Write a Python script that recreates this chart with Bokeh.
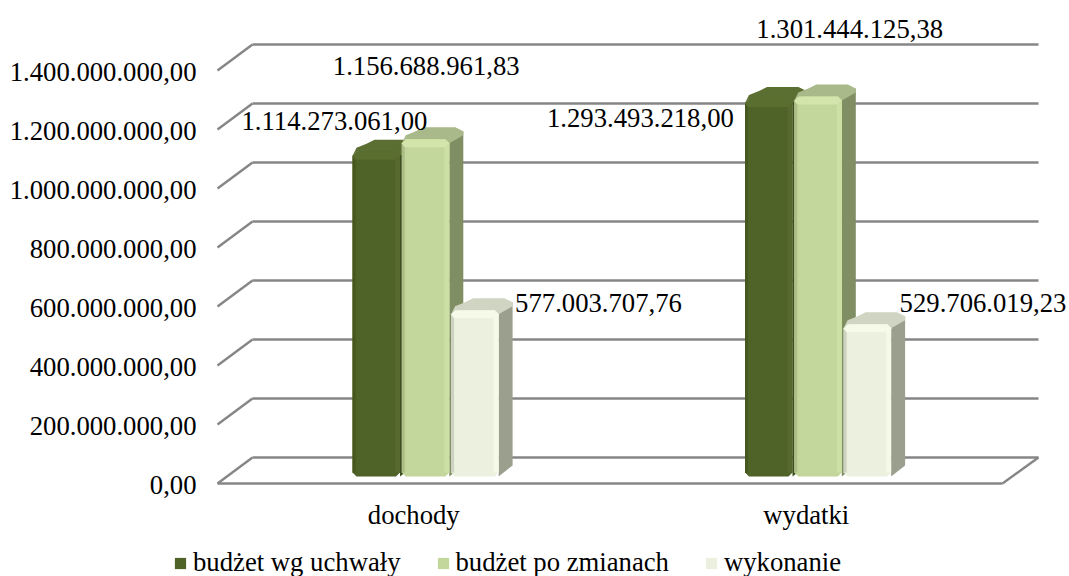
from bokeh.plotting import figure
from bokeh.embed import file_html
from bokeh.resources import INLINE
from bokeh.models import Range1d, Legend, LegendItem
from bokeh.core.properties import value

categories = ["dochody", "wydatki"]
series_names = ["budżet wg uchwały", "budżet po zmianach", "wykonanie"]
uchwala = [1114273061.00, 1293493218.00]
po_zmianach = [1156688961.83, 1301444125.38]
wykonanie = [577003707.76, 529706019.23]
tick_values = [0, 200000000, 400000000, 600000000, 800000000, 1000000000, 1200000000, 1400000000]
tick_labels = ["0,00", "200.000.000,00", "400.000.000,00", "600.000.000,00",
               "800.000.000,00", "1.000.000.000,00", "1.200.000.000,00", "1.400.000.000,00"]
value_labels = [["1.114.273.061,00", "1.293.493.218,00"],
                ["1.156.688.961,83", "1.301.444.125,38"],
                ["577.003.707,76", "529.706.019,23"]]

FONT = "Liberation Serif"
FS = "26.7px"
W, H = 1069, 576
LEFT, FRONT_BASE = 217, 483      # pixel position of the chart's front-left corner
CAT_PX, TICK_PX = 392.5, 59.0
PX_X = 1 / CAT_PX
PX_Y = tick_values[1] / TICK_PX
WALL_DX, WALL_DY = 35 * PX_X, 26 * PX_Y

front = ["#4f6228", "#c3d69b", "#ebf1de"]
top_c = ["#5c6f33", "#a9b98a", "#d0d5c3"]
side = ["#3f4e20", "#7f8f63", "#9a9f8e"]
hi_right = ["#57692e", "#cde0a3", "#f5fae8"]
hi_left = ["#46581f", "#adbf88", "#ccd1c0"]
cap_c = ["#5a6e30", "#d3e5aa", "#f6fae9"]

p = figure(width=W, height=H, output_backend="svg", toolbar_location=None,
           x_range=Range1d(-LEFT * PX_X, (W - LEFT) * PX_X),
           y_range=Range1d(-(H - FRONT_BASE) * PX_Y, FRONT_BASE * PX_Y),
           min_border_left=0, min_border_right=0, min_border_top=0, min_border_bottom=0,
           x_axis_type=None, y_axis_type=None, outline_line_color=None)
p.xgrid.visible = False
p.ygrid.visible = False

TEXT = dict(text_font=value(FONT), text_font_size=value(FS), text_color="#000000", text_baseline="middle")

# axis labels
p.text([-21 * PX_X] * len(tick_values), [t - 1.5 * PX_Y for t in tick_values], text=tick_labels,
       text_align="right", **TEXT)
p.text([i + 0.5 for i in range(len(categories))], [-31 * PX_Y] * len(categories), text=categories,
       text_align="center", **TEXT)

# walls and floor
GRID = dict(line_color="#868686", line_width=2.4)
n = len(categories)
RIGHT_DX = 36 * PX_X
for t in tick_values:
    p.line([WALL_DX, n + RIGHT_DX], [t + WALL_DY, t + WALL_DY], **GRID)
    p.line([0, WALL_DX], [t, t + WALL_DY], **GRID)
p.line([0, n], [0, 0], **GRID)
p.line([n, n + RIGHT_DX], [0, WALL_DY], **GRID)

# bars
BASE = 7 * PX_Y          # bar front sits above the floor's front edge
CAP = 4 * PX_Y           # bevel eats the top of the front face
OFF, STEP, BW = 135 * PX_X, 49.3 * PX_X, 47.5 * PX_X
DX, DY, TOP_DY = 14 * PX_X, 11 * PX_Y, 12 * PX_Y
RX, RY = 4 * PX_X, 4 * PX_Y
renderers = []
all_values = [uchwala, po_zmianach, wykonanie]
for s, vals in enumerate(all_values):
    fx, fy, tx, ty, sx, sy, hrx, hry, hlx, hly, cx, cy = [], [], [], [], [], [], [], [], [], [], [], []
    for c, v in enumerate(vals):
        L = c + OFF + s * STEP
        R = L + BW
        B = BASE
        T = BASE + v - CAP
        sx.append([R, R + DX, R + DX, R])
        sy.append([B, B + DY, T + TOP_DY - RY, T])
        tx.append([L, L + RX, L + DX, L + DX + 2 * RX, R + DX - 2 * RX, R + DX, R + DX, R, L + RX])
        ty.append([T - RY, T + RY, T + TOP_DY - RY, T + TOP_DY, T + TOP_DY, T + TOP_DY - RY,
                   T + TOP_DY - 2 * RY, T - RY, T])
        fx.append([L, L + RX, R - RX, R, R, R - RX, L + RX, L])
        fy.append([B + RY, B, B, B + RY, T - RY, T, T, T - RY])
        hrx.append([R - 5 * PX_X, R, R, R - RX, R - 5 * PX_X])
        hry.append([B + RY, B + RY, T - RY, T, T - 2 * RY])
        hlx.append([L, L + 3 * PX_X, L + 3 * PX_X, L])
        hly.append([B + RY, B + RY, T - 2 * RY, T - RY])
        cx.append([L, L + RX, R - RX, R, R - 5 * PX_X, L + 3 * PX_X])
        cy.append([T - RY, T, T, T - RY, T - 2 * RY, T - 2 * RY])
    p.patches(sx, sy, fill_color=side[s], line_color=None)
    p.patches(tx, ty, fill_color=top_c[s], line_color=None)
    r = p.patches(fx, fy, fill_color=front[s], line_color=None)
    p.patches(hrx, hry, fill_color=hi_right[s], line_color=None)
    p.patches(hlx, hly, fill_color=hi_left[s], line_color=None)
    p.patches(cx, cy, fill_color=cap_c[s], line_color=None)
    renderers.append(r)

# value labels: offsets from each bar's top, in px
label_dx = [[-111, -198], [-69, -38], [64, 56]]
label_dy = [[32, -18], [74, 69], [8, 22]]
for s, vals in enumerate(all_values):
    xs = [c + OFF + s * STEP + label_dx[s][c] * PX_X for c in range(n)]
    ys = [BASE + v - 5 * PX_Y + label_dy[s][c] * PX_Y for c, v in enumerate(vals)]
    p.text(xs, ys, text=value_labels[s], text_align="left", **TEXT)

legend = Legend(items=[LegendItem(label=series_names[i], renderers=[renderers[i]]) for i in range(3)],
                orientation="horizontal", location=(173, -2),
                background_fill_alpha=0, border_line_color=None,
                label_text_font=FONT, label_text_font_size=FS, label_text_color="#000000",
                glyph_width=14, glyph_height=14, label_standoff=6, spacing=35, padding=0, margin=0)
p.add_layout(legend, "center")

open("out.html", "w").write(file_html(p, INLINE))
